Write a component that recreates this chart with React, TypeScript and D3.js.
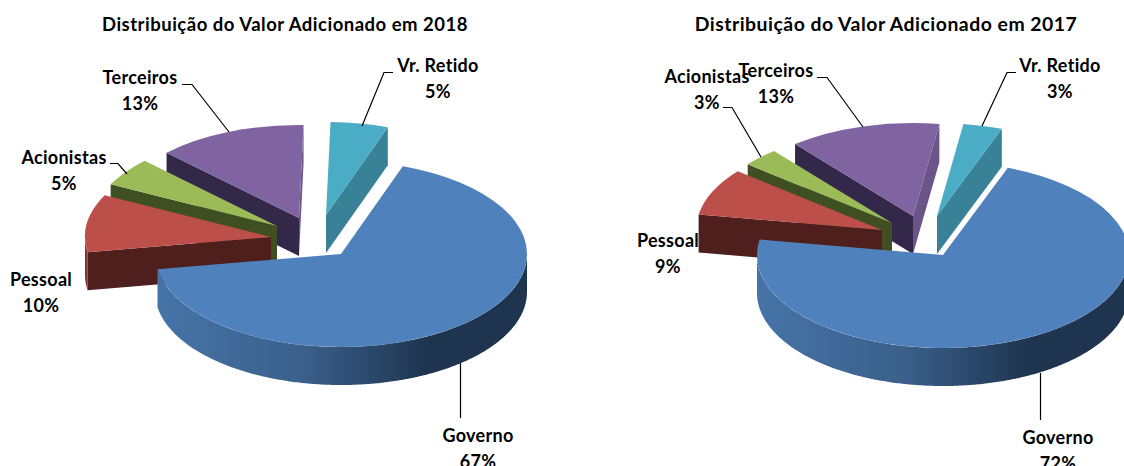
import React from "react";
import * as d3 from "d3";

const categories = ["Governo", "Pessoal", "Acionistas", "Terceiros", "Vr. Retido"];
const values2018 = [67, 10, 5, 13, 5];
const labels2018 = ["67%", "10%", "5%", "13%", "5%"];
// slice sizes (the printed labels are rounded)
const values2017 = [72, 8.2, 3.2, 13.2, 3.4];
const labels2017 = ["72%", "9%", "3%", "13%", "3%"];

const topColors = ["#4f81bd", "#bd4f4b", "#9bbb59", "#8064a2", "#4bacc6"];
const startFaceColors = ["#2f4d71", "#4f1f1e", "#3f4f22", "#33284a", "#398196"];
const endFaceColors = ["#2f4d71", "#4f1f1e", "#3f4f22", "#6a5488", "#398196"];
const wallColors = ["#2f4d71", "#7d3432", "#55692f", "#5b4775", "#398196"];

const FONT = "Lato, 'Open Sans', sans-serif";
const RX = 186;
const RY = 93;
const DEPTH = 38;
const TAU = Math.PI * 2;

const chart2018 = {
    id: "a",
    title: "Distribuição do Valor Adicionado em 2018",
    titleX: 285,
    titleSize: 18.5,
    values: values2018,
    labels: labels2018,
    startDeg: 19.4,
    // apex of each exploded slice
    apex: [[341, 254], [271, 237], [277, 226], [299, 218], [326, 215]],
    labelPos: [[478, 442], [41, 286], [64, 164], [140, 84], [438, 72]],
    leaders: [
        [[460.5, 363], [460.5, 418]],
        null,
        [[127, 174], [118, 163.5], [110, 163.5]],
        [[229, 132], [192, 84.5], [182, 84.5]],
        [[362, 126], [384, 72.5], [393, 72.5]],
    ],
};

const chart2017 = {
    id: "b",
    title: "Distribuição do Valor Adicionado em 2017",
    titleX: 886,
    titleSize: 19.4,
    values: values2017,
    labels: labels2017,
    startDeg: 20.4,
    apex: [[943, 255], [882, 230], [892, 223], [913, 216], [937, 216]],
    labelPos: [[1058, 444], [668, 247], [707, 83], [776, 77], [1060, 72]],
    leaders: [
        [[1040.5, 373], [1040.5, 420]],
        null,
        [[761, 157], [732, 107.5], [723, 107.5]],
        [[863, 127], [827, 77.5], [817, 77.5]],
        [[982, 126], [1007, 72.5], [1016, 72.5]],
    ],
};

const px = (t: number) => RX * Math.sin(t);
const py = (t: number) => -RY * Math.cos(t);

// side of the pie between two angles, only the front part shows
const wallPath = (a0: number, a1: number) => {
    const parts: string[] = [];
    for (let k = 0; k < 2; k++) {
        const lo = Math.max(a0, Math.PI / 2 + k * TAU);
        const hi = Math.min(a1, (3 * Math.PI) / 2 + k * TAU);
        if (hi <= lo) continue;
        const area = d3.area<number>()
            .x(t => px(t))
            .y0(t => py(t))
            .y1(t => py(t) + DEPTH);
        parts.push(area(d3.range(lo, hi, 0.01).concat(hi)) as string);
    }
    return parts.join("");
};

// cut face running from the apex to the rim at angle t
const facePath = (t: number) => {
    const area = d3.area<number>()
        .x(f => f * px(t))
        .y0(f => f * py(t))
        .y1(f => f * py(t) + DEPTH);
    return area([0, 1]) as string;
};

const Pie3D = ({ chart }: { chart: typeof chart2018 }) => {
    const a0 = (chart.startDeg * Math.PI) / 180;
    const arcs = d3.pie<number>().sort(null).startAngle(a0).endAngle(a0 + TAU)(chart.values);
    const top = d3.arc<any>().innerRadius(0).outerRadius(RX);
    const line = d3.line();
    const order = [4, 3, 2, 1, 0];

    return (
        <g>
            <defs>
                <linearGradient id={`wall-${chart.id}`} x1="0" x2="1" y1="0" y2="0">
                    <stop offset="0" stopColor="#4674a8" />
                    <stop offset="0.4" stopColor="#3a5f8a" />
                    <stop offset="0.73" stopColor="#1e344f" />
                    <stop offset="1" stopColor="#1e344f" />
                </linearGradient>
            </defs>
            <text x={chart.titleX} y={31} textAnchor="middle" fontSize={chart.titleSize} letterSpacing={0.5} fontWeight={700} fontFamily={FONT}>
                {chart.title}
            </text>
            {order.map(i => {
                const d = arcs[i];
                const [ax, ay] = chart.apex[i];
                return (
                    <g key={i} transform={`translate(${ax},${ay})`}>
                        {Math.sin(d.startAngle) < 0 && <path d={facePath(d.startAngle)} fill={startFaceColors[i]} />}
                        {Math.sin(d.endAngle) > 0 && <path d={facePath(d.endAngle)} fill={endFaceColors[i]} />}
                        <path d={wallPath(d.startAngle, d.endAngle)} fill={i === 0 ? `url(#wall-${chart.id})` : wallColors[i]} />
                        <path
                            d={top({ startAngle: d.startAngle, endAngle: d.endAngle }) as string}
                            transform={`scale(1,${RY / RX})`}
                            fill={topColors[i]}
                        />
                    </g>
                );
            })}
            {chart.leaders.map((pts, i) =>
                pts ? <path key={i} d={line(pts as [number, number][]) as string} fill="none" stroke="#000" strokeWidth={1.2} /> : null
            )}
            {categories.map((c, i) => (
                <text key={c} textAnchor="middle" fontSize={18} letterSpacing={0.3} fontWeight={700} fontFamily={FONT} fill="#000">
                    <tspan x={chart.labelPos[i][0]} y={chart.labelPos[i][1]}>{c}</tspan>
                    <tspan x={chart.labelPos[i][0]} y={chart.labelPos[i][1] + 25.5}>{chart.labels[i]}</tspan>
                </text>
            ))}
        </g>
    );
};

export default function App() {
    return (
        <svg width={1124} height={466} style={{ position: "absolute", left: 0, top: 0 }}>
            <rect width={1124} height={466} fill="#fff" />
            <Pie3D chart={chart2018} />
            <Pie3D chart={chart2017} />
        </svg>
    );
}
